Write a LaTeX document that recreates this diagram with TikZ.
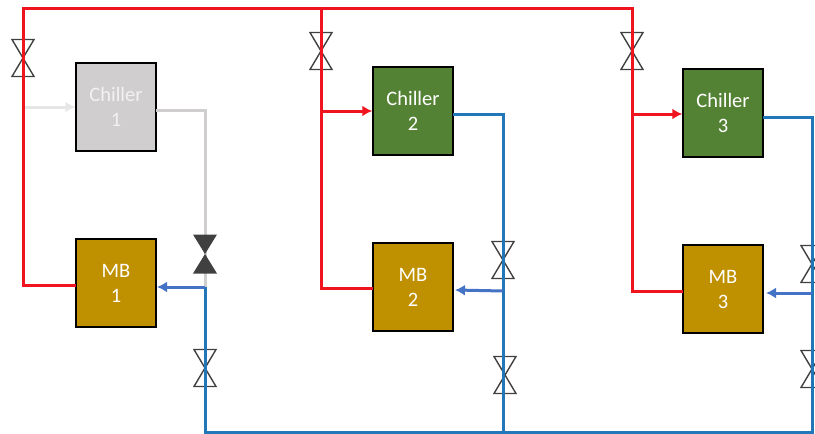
\documentclass[tikz,border=0pt]{standalone}
\usepackage{fontspec}
\setmainfont{Carlito}
\usepackage{tikz}
\usetikzlibrary{positioning, arrows.meta}
\definecolor{pipered}{HTML}{F0141E}
\definecolor{pipeblue}{HTML}{2177B8}
\definecolor{arrowblue}{HTML}{4472C4}
\definecolor{pipegray}{HTML}{D0CECE}
\definecolor{arrowgray}{HTML}{E7E6E6}
\definecolor{textgray}{HTML}{F2F2F2}
\definecolor{chillgreen}{HTML}{548235}
\definecolor{mbgold}{HTML}{BF9000}
\definecolor{valvedark}{HTML}{404040}
\tikzset{
  unit/.style={draw=black, line width=1.5pt, minimum width=80pt, minimum height=88pt, inner sep=0pt, align=center, text=white, font=\fontsize{20.5}{25}\selectfont},
  chiller/.style={unit, fill=chillgreen},
  chilleroff/.style={unit, fill=pipegray, text=textgray},
  mb/.style={unit, fill=mbgold},
  valve/.style={minimum width=24pt, minimum height=39pt, inner sep=0pt, outer sep=0pt, path picture={
      \draw[valvedark, line width=1.4pt, line join=miter]
        ([shift={(1pt,1pt)}]path picture bounding box.south west) -- ([shift={(-1pt,-1pt)}]path picture bounding box.north east)
        -- ([shift={(1pt,-1pt)}]path picture bounding box.north west) -- ([shift={(-1pt,1pt)}]path picture bounding box.south east) -- cycle;}},
  valveshut/.style={minimum width=24pt, minimum height=39pt, inner sep=0pt, outer sep=0pt, path picture={
      \fill[valvedark]
        (path picture bounding box.south west) -- (path picture bounding box.north east)
        -- (path picture bounding box.north west) -- (path picture bounding box.south east) -- cycle;}},
  redpipe/.style={pipered, line width=3pt},
  bluepipe/.style={pipeblue, line width=3pt},
  graypipe/.style={pipegray, line width=3pt},
  flow/.style={line width=3pt, -{Latex[length=10pt,width=11pt]}}
}
\begin{document}
\begin{tikzpicture}
	[x=1pt, y=-1pt, on grid, node distance=176pt]
   \useasboundingbox (0,0) rectangle (815,434);
   \node[chilleroff] (c_1) at (116,107) {Chiller\\1};
   \node[chiller] (c_2) at (413,111) {Chiller\\2};
   \node[chiller] (c_3) at (723,113) {Chiller\\3};
   \node[mb] (m_1) [below=of c_1] {MB\\1};
   \node[mb] (m_2) [below=of c_2] {MB\\2};
   \node[mb] (m_3) [below=of c_3] {MB\\3};
   % supply header
   \coordinate (r_1) at (23,8);
   \coordinate (r_2) at (321,8);
   \coordinate (r_3) at (632,8);
   % return header
   \coordinate (b_1) at (205,432);
   \coordinate (b_2) at (503,432);
   \coordinate (b_3) at (812,432);
   \coordinate (j_1) at (205,287);
   \coordinate (j_2) at (503,291);
   \coordinate (j_3) at (812,293);
   \coordinate (a_1) at (157,287);
   \coordinate (a_2) at (455,290);
   \coordinate (a_3) at (766,293);
   \coordinate (g_1) at (23,107);
   \coordinate (g_2) at (321,111);
   \coordinate (g_3) at (632,114);
   \coordinate (o_1) at (156,110);
   \coordinate (o_2) at (453,114);
   \coordinate (o_3) at (763,117);
   \coordinate (i_1) at (76,285);
   \coordinate (i_2) at (373,288);
   \coordinate (i_3) at (683,291);

   \draw[graypipe] (o_1) -| (j_1);
   \draw[flow, arrowgray] (g_1) -- (g_1 -| c_1.west);

   \node[valve] (v_1) at (23,58) {};
   \node[valve] (v_2) at (321,51) {};
   \node[valve] (v_3) at (632,51) {};
   \node[valveshut] (v_4) at (205,254) {};
   \node[valve] (v_5) at (205,368) {};
   \node[valve] (v_6) at (503,260) {};
   \node[valve] (v_7) at (505,375) {};
   \node[valve] (v_8) at (812,264) {};
   \node[valve] (v_9) at (812,369) {};

   \draw[redpipe] (i_1) -| (r_1) -- (r_3) -- (g_3 |- i_3) -- (i_3);
   \draw[redpipe] (r_2) |- (i_2);
   \draw[flow, pipered] (g_2) -- (g_2 -| c_2.west);
   \draw[flow, pipered] (g_3) -- (g_3 -| c_3.west);

   \draw[bluepipe] (j_1) -- (b_1) -- (b_3) -- (o_3 -| b_3) -- (o_3);
   \draw[bluepipe] (o_2) -| (b_2);
   \draw[flow, arrowblue] (j_1) -- (a_1);
   \draw[flow, arrowblue] (j_2) -- (a_2);
   \draw[flow, arrowblue] (j_3) -- (a_3);
\end{tikzpicture}
\end{document}
